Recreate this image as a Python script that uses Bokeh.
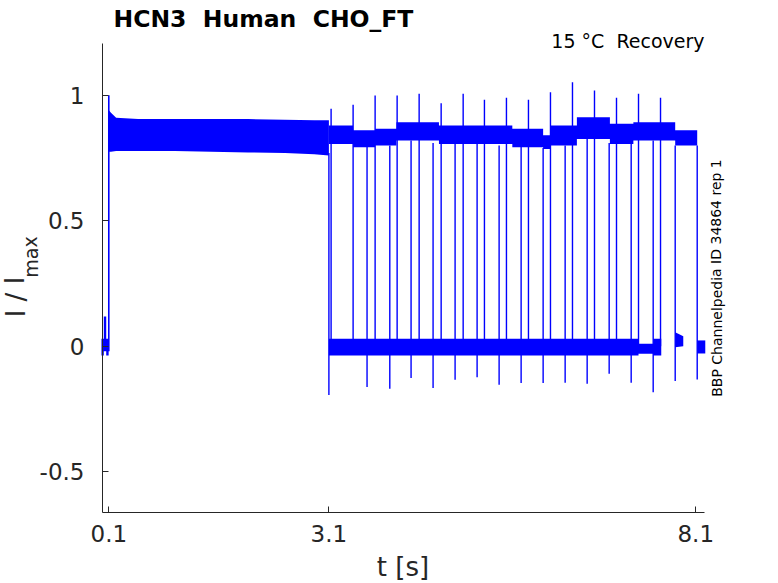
from bokeh.plotting import figure
from bokeh.models import Range1d, FixedTicker, Label
from bokeh.embed import file_html
from bokeh.resources import INLINE

# ---- data ----
# holding segment before the activating step
pre_t = [0.0, 0.032, 0.032, 0.065, 0.065, 0.098]
pre_lo = [-0.037, -0.037, -0.02, -0.02, -0.037, -0.037]
pre_hi = [0.03, 0.03, 0.118, 0.118, 0.03, 0.03]

# activated current band 0.1 .. 3.1 s
b1_t = [0.1, 0.13, 0.2, 0.5, 1.0, 1.5, 2.0, 2.5, 2.9, 3.1]
b1_lo = [0.775, 0.775, 0.778, 0.778, 0.778, 0.775, 0.772, 0.77, 0.765, 0.76]
b1_hi = [0.94, 0.93, 0.91, 0.905, 0.905, 0.905, 0.905, 0.902, 0.9, 0.9]

# recovered current band after 3.1 s (piecewise levels)
b2_edges = [3.1, 3.43, 3.73, 4.02, 4.6, 5.6, 6.02, 6.12, 6.48, 6.93, 7.25, 7.82, 8.12]
b2_lo = [0.806, 0.793, 0.8, 0.82, 0.806, 0.793, 0.786, 0.8, 0.826, 0.806, 0.82, 0.8]
b2_hi = [0.879, 0.86, 0.866, 0.892, 0.879, 0.866, 0.84, 0.879, 0.912, 0.886, 0.892, 0.86]

# deactivated (zero) band after 3.1 s
l_t = [3.1, 7.32, 7.32, 7.52, 7.52, 7.63]
l_lo = [-0.037, -0.037, -0.03, -0.03, -0.037, -0.037]
l_hi = [0.03, 0.03, 0.01, 0.01, 0.03, 0.03]

# short returns to zero near the end
blip_t = [[7.82, 7.93], [8.12, 8.23]]
blip_lo = [[-0.004, 0.0], [-0.029, -0.029]]
blip_hi = [[0.056, 0.04], [0.023, 0.023]]

# activating step at 0.1 s
onset_t = [0.1]
onset_from = [-0.02]
onset_to = [1.0]

# step-up transients
up_t = [3.13, 3.43, 3.73, 4.03, 4.33, 4.63, 4.93, 5.22, 5.52, 5.82, 6.12, 6.42, 6.72, 7.02, 7.32, 7.62]
up_from = [0.0, 0.0, 0.0, 0.0, 0.0, 0.0, 0.0, 0.0, 0.0, 0.0, 0.0, 0.0, 0.0, 0.0, 0.0, 0.0]
up_peak = [0.946, 0.962, 0.999, 0.999, 1.006, 0.968, 1.006, 0.982, 0.99, 0.982, 1.012, 1.052, 1.019, 0.99, 1.006, 0.99]

# step-down transients
down_t = [3.1, 3.62, 3.93, 4.22, 4.52, 4.82, 5.12, 5.42, 5.72, 6.02, 6.32, 6.62, 6.92, 7.22, 7.52, 7.82, 8.12]
down_from = [0.77, 0.8, 0.8, 0.82, 0.81, 0.81, 0.81, 0.8, 0.8, 0.79, 0.8, 0.83, 0.81, 0.82, 0.82, 0.8, 0.8]
down_trough = [-0.194, -0.163, -0.17, -0.127, -0.167, -0.134, -0.124, -0.154, -0.147, -0.147,
               -0.146, -0.15, -0.11, -0.146, -0.183, -0.139, -0.133]

x_ticks = [0.1, 3.1, 8.1]
x_tick_labels = ["0.1", "3.1", "8.1"]
y_ticks = [-0.5, 0, 0.5, 1]
y_tick_labels = ["-0.5", "0", "0.5", "1"]
x_limits = (0.014, 8.218)
y_limits = (-0.6625, 1.206)

title_text = "HCN3\u00a0 Human\u00a0 CHO_FT"
cond_text = "15 °C\u00a0 Recovery"
id_text = "BBP Channelpedia ID 34864 rep 1"
x_label = "t [s]"
y_label_main = "I / I"
y_label_sub = "max"

# ---- figure ----
BLUE = "#0000ff"
INK = "#262626"
FONT = "DejaVu Sans"
W, H = 778, 583

# the plot frame covers the whole canvas; the axes are pinned to the data limits
p = figure(width=W, height=H, output_backend="svg", toolbar_location=None, title=None,
           x_range=Range1d(-1.376, 9.228), y_range=Range1d(-0.9454, 1.3773),
           min_border_left=0, min_border_right=0, min_border_top=0, min_border_bottom=0)
p.outline_line_color = None
p.grid.visible = False
p.background_fill_color = "white"
p.border_fill_color = "white"

# bands
p.varea(x=pre_t, y1=pre_lo, y2=pre_hi, fill_color=BLUE)
p.varea(x=b1_t, y1=b1_lo, y2=b1_hi, fill_color=BLUE)

sx, slo, shi = [], [], []
for i in range(len(b2_lo)):
    sx += [b2_edges[i], b2_edges[i + 1]]
    slo += [b2_lo[i], b2_lo[i]]
    shi += [b2_hi[i], b2_hi[i]]
p.varea(x=sx, y1=slo, y2=shi, fill_color=BLUE)

p.varea(x=l_t, y1=l_lo, y2=l_hi, fill_color=BLUE)
for bt, blo, bhi in zip(blip_t, blip_lo, blip_hi):
    p.varea(x=bt, y1=blo, y2=bhi, fill_color=BLUE)

# transients
p.segment(x0=onset_t, y0=onset_from, x1=onset_t, y1=onset_to, line_color=BLUE, line_width=1.6)
p.segment(x0=up_t, y0=up_from, x1=up_t, y1=up_peak, line_color=BLUE, line_width=1.4)
p.segment(x0=down_t, y0=down_from, x1=down_t, y1=down_trough, line_color=BLUE, line_width=1.4)

# axes
for ax in (p.xaxis, p.yaxis):
    ax.axis_line_color = INK
    ax.axis_line_width = 1
    ax.major_tick_line_color = INK
    ax.major_tick_in = 6
    ax.major_tick_out = 0
    ax.minor_tick_line_color = None
    ax.major_label_text_font = FONT
    ax.major_label_text_font_size = "23px"
    ax.major_label_text_color = INK

p.xaxis.ticker = FixedTicker(ticks=x_ticks)
p.xaxis.major_label_overrides = dict(zip(x_ticks, x_tick_labels))
p.xaxis.major_label_standoff = 13
p.xaxis.bounds = x_limits
p.xaxis.fixed_location = y_limits[0]

p.yaxis.ticker = FixedTicker(ticks=y_ticks)
p.yaxis.major_label_overrides = dict(zip(y_ticks, y_tick_labels))
p.yaxis.major_label_standoff = 18
p.yaxis.bounds = y_limits
p.yaxis.fixed_location = x_limits[0]


def label(text, x, y, size, **kw):
    p.add_layout(Label(x=x, y=H - y, x_units="screen", y_units="screen", text=text,
                       text_font=FONT, text_font_size=size, **kw))


# texts (positions in canvas pixels from the top-left corner)
label(title_text, 113, 18.5, "23.5px", text_font_style="bold", text_color="black",
      text_align="left", text_baseline="alphabetic")
label(cond_text, 704, 40, "19px", text_color="black",
      text_align="right", text_baseline="alphabetic")
label(id_text, 716, 277.5, "14px", text_color="black",
      text_align="center", text_baseline="middle", angle=1.5708)
label(y_label_main, 15, 296.5, "26px", text_color=INK,
      text_align="center", text_baseline="alphabetic", angle=1.5708)
label(y_label_sub, 30, 256.5, "19px", text_color=INK,
      text_align="center", text_baseline="alphabetic", angle=1.5708)
label(x_label, 402.5, 566.5, "26px", text_color=INK,
      text_align="center", text_baseline="alphabetic")

open("out.html", "w").write(file_html(p, INLINE))
